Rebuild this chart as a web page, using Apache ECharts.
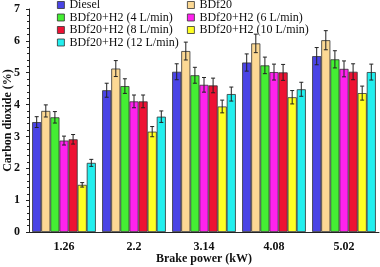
<!DOCTYPE html>
<html>
<head>
<meta charset="utf-8">
<script src="https://cdn.jsdelivr.net/npm/echarts@6/dist/echarts.min.js"></script>
<style>
  html, body { margin: 0; padding: 0; background: #fff; }
  #main { width: 380px; height: 267px; }
</style>
</head>
<body>
<div id="main"></div>
<script>
var chartDom = document.getElementById("main");
var myChart = echarts.init(chartDom);

// brake power categories
var powers = ["1.26", "2.2", "3.14", "4.08", "5.02"];
var seriesNames = ["Diesel", "BDf20", "BDf20+H2 (4 L/min)", "BDf20+H2 (6 L/min)",
  "BDf20+H2 (8 L/min)", "BDf20+H2 (10 L/min)", "BDf20+H2 (12 L/min)"];
var colors = ["#4a44e6", "#fcd994", "#44ee33", "#ff22ee", "#ee1133", "#ffff22", "#22eeee"];

// CO2 (%) per series
var diesel = [3.45, 4.45, 5.03, 5.32, 5.52];
var bdf20 = [3.8, 5.13, 5.68, 5.92, 6.02];
var h2_4 = [3.6, 4.58, 4.92, 5.23, 5.42];
var h2_6 = [2.87, 4.1, 4.62, 5.02, 5.12];
var h2_8 = [2.91, 4.1, 4.6, 5.01, 5.03];
var h2_10 = [1.48, 3.15, 3.94, 4.23, 4.36];
var h2_12 = [2.17, 3.62, 4.33, 4.48, 5.02];

// error bar half-widths
var errDiesel = [0.17, 0.22, 0.25, 0.27, 0.27];
var errBdf20 = [0.19, 0.25, 0.28, 0.29, 0.3];
var errH2_4 = [0.18, 0.23, 0.25, 0.26, 0.27];
var errH2_6 = [0.14, 0.2, 0.23, 0.25, 0.25];
var errH2_8 = [0.15, 0.2, 0.23, 0.25, 0.25];
var errH2_10 = [0.07, 0.16, 0.2, 0.21, 0.22];
var errH2_12 = [0.11, 0.18, 0.22, 0.22, 0.25];

var values = [diesel, bdf20, h2_4, h2_6, h2_8, h2_10, h2_12];
var errors = [errDiesel, errBdf20, errH2_4, errH2_6, errH2_8, errH2_10, errH2_12];

var catGap = 0.09;
var font = "'Liberation Serif', 'Times New Roman', serif";

var series = [];
values.forEach(function (vals, i) {
  series.push({
    name: seriesNames[i],
    type: "bar",
    data: vals,
    barGap: 0,
    barCategoryGap: catGap * 100 + "%",
    itemStyle: { color: colors[i], borderColor: "#333", borderWidth: 0.8 }
  });
});

// error bars
values.forEach(function (vals, i) {
  var errData = vals.map(function (v, j) { return [j, v - errors[i][j], v + errors[i][j]]; });
  series.push({
    type: "custom",
    silent: true,
    z: 10,
    data: errData,
    renderItem: function (params, api) {
      var c = api.value(0);
      var lo = api.coord([c, api.value(1)]);
      var hi = api.coord([c, api.value(2)]);
      var band = api.size([1, 0])[0];
      var bw = band * (1 - catGap) / 7;
      var x = lo[0] - band * (1 - catGap) / 2 + bw * (i + 0.5);
      var cap = 2;
      var st = { stroke: "#222", lineWidth: 1 };
      return {
        type: "group",
        children: [
          { type: "line", shape: { x1: x, y1: lo[1], x2: x, y2: hi[1] }, style: st },
          { type: "line", shape: { x1: x - cap, y1: lo[1], x2: x + cap, y2: lo[1] }, style: st },
          { type: "line", shape: { x1: x - cap, y1: hi[1], x2: x + cap, y2: hi[1] }, style: st }
        ]
      };
    }
  });
});

var legendText = { fontFamily: font, fontSize: 12, color: "#111" };

var option = {
  animation: false,
  color: colors,
  textStyle: { fontFamily: font },
  grid: { left: 29, right: 1, top: 9, bottom: 35, outerBoundsMode: "none" },
  legend: [
    {
      data: [seriesNames[0], seriesNames[2], seriesNames[4], seriesNames[6]],
      orient: "vertical", left: 57, top: -1, itemGap: 0.5,
      itemWidth: 7, itemHeight: 7, icon: "rect",
      itemStyle: { borderColor: "#333", borderWidth: 0.8 },
      textStyle: legendText, padding: 0
    },
    {
      data: [seriesNames[1], seriesNames[3], seriesNames[5]],
      orient: "vertical", left: 187, top: -1, itemGap: 0.5,
      itemWidth: 7, itemHeight: 7, icon: "rect",
      itemStyle: { borderColor: "#333", borderWidth: 0.8 },
      textStyle: legendText, padding: 0
    }
  ],
  xAxis: {
    type: "category",
    data: powers,
    name: "Brake power (kW)",
    nameLocation: "middle",
    nameGap: 21,
    nameMoveOverlap: false,
    nameTextStyle: { fontFamily: font, fontWeight: "bold", fontSize: 12, color: "#111" },
    axisLine: { lineStyle: { color: "#222" } },
    axisTick: { inside: true, length: 4, lineStyle: { color: "#222" } },
    axisLabel: { fontFamily: font, fontWeight: "bold", fontSize: 12, color: "#111", margin: 9 }
  },
  yAxis: {
    type: "value",
    min: 0, max: 7, interval: 1,
    name: "Carbon dioxide (%)",
    nameLocation: "middle",
    nameGap: 15,
    nameMoveOverlap: false,
    nameTextStyle: { fontFamily: font, fontWeight: "bold", fontSize: 12, color: "#111" },
    axisLine: { show: true, lineStyle: { color: "#222" } },
    axisTick: { show: true, length: 3, lineStyle: { color: "#222" } },
    minorTick: { show: true, splitNumber: 5, length: 2, lineStyle: { color: "#222" } },
    splitLine: { show: false },
    axisLabel: { fontFamily: font, fontWeight: "bold", fontSize: 12, color: "#111", margin: 9 }
  },
  series: series
};

option && myChart.setOption(option);
</script>
</body>
</html>
